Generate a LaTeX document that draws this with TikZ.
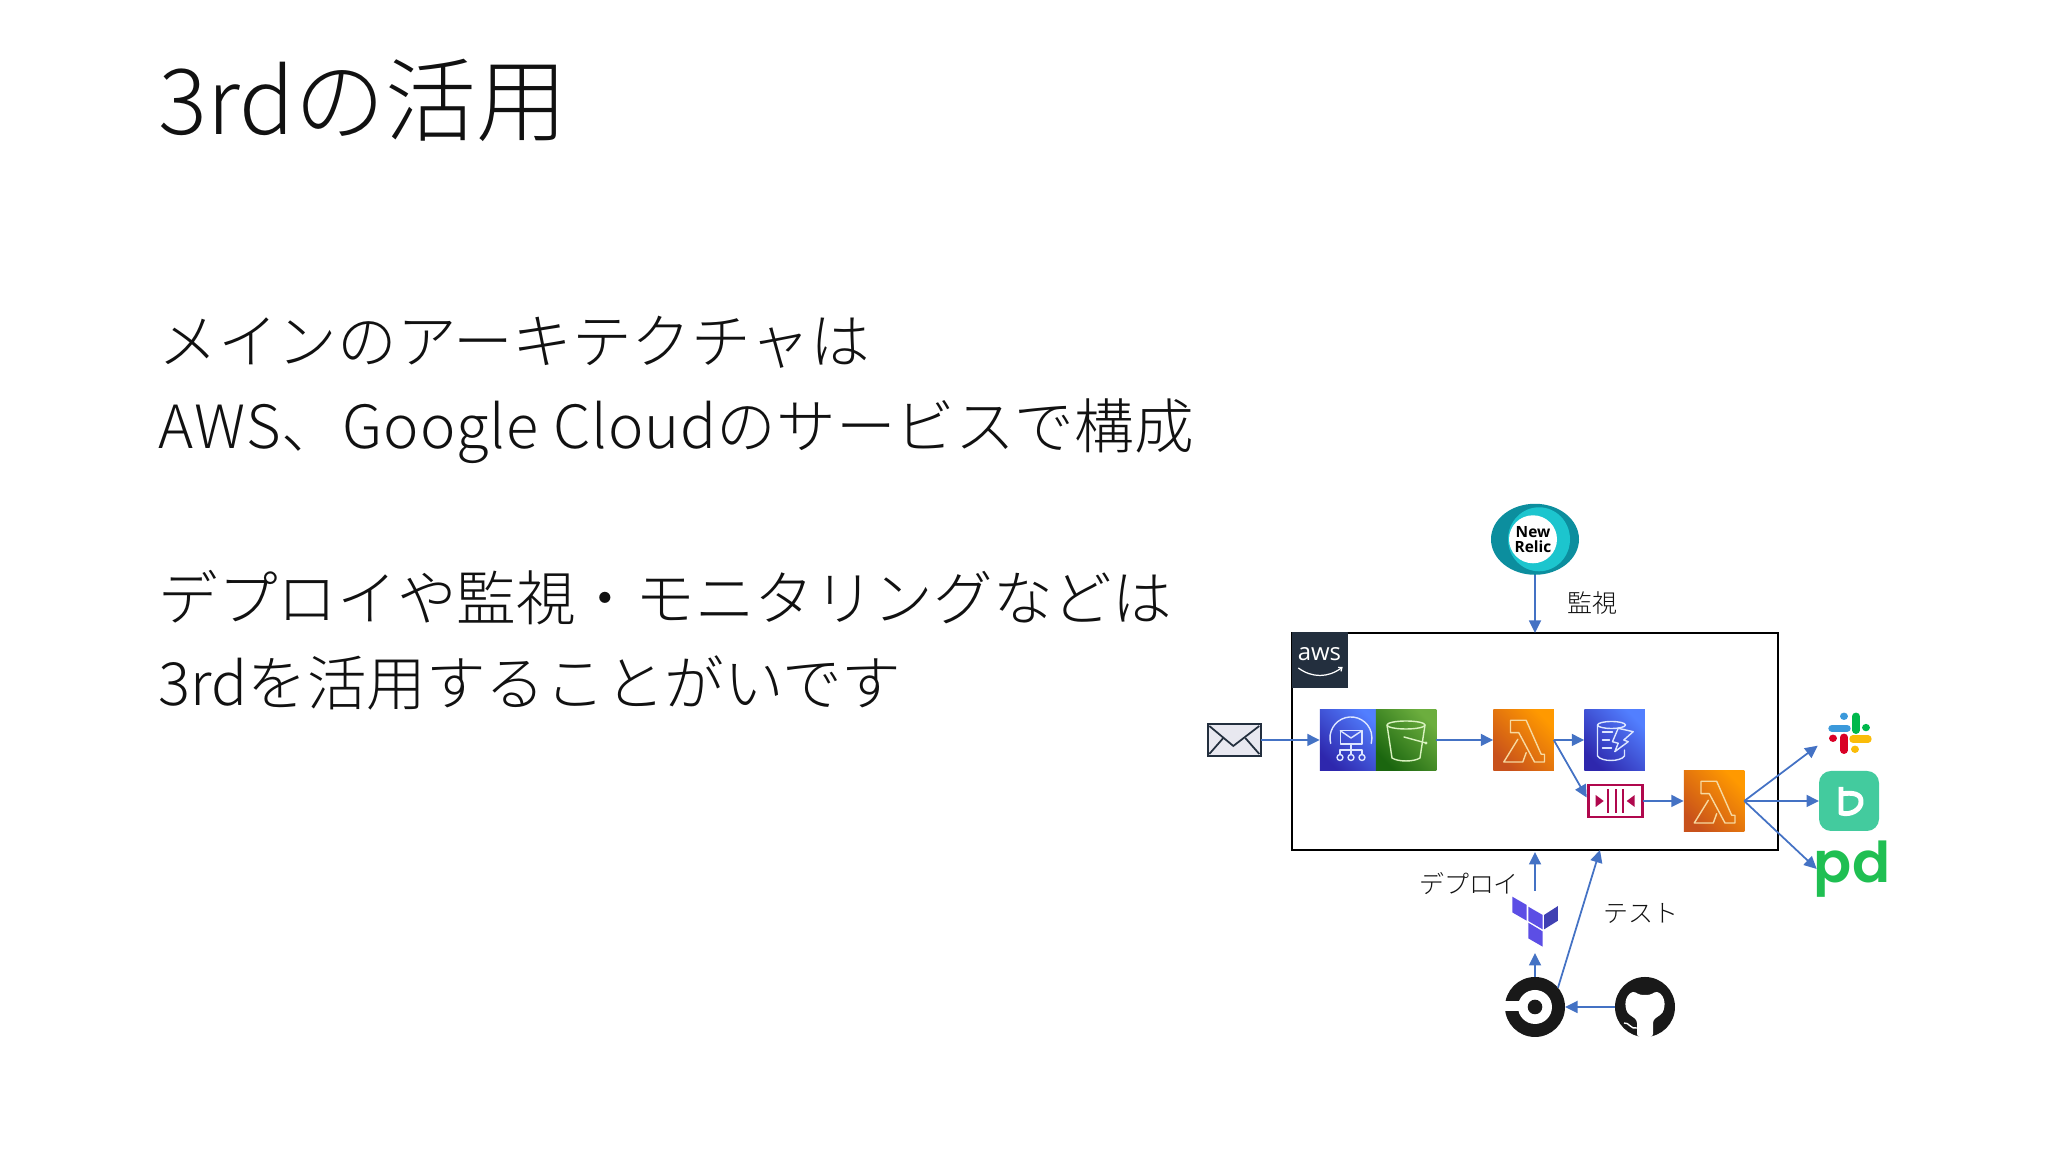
\documentclass[tikz,border=0pt]{standalone}
\usepackage{fontspec}
\usepackage{tikz}
\usetikzlibrary{arrows.meta,shapes.geometric}
\setmainfont{Noto Sans CJK JP}[UprightFont=* Light]
\newfontfamily\logofont{Open Sans}
\newfontfamily\pdfont{Poppins}[UprightFont=* SemiBold]

\tikzset{
    linearrow/.style={-{Triangle[length=0.125cm,width=0.12cm]},color=arrowblue,line width=0.5pt},
    awsicon/.style n args={2}{inner sep=0,outer sep=0,minimum size=0.605cm,bottom color=#1,top color=#2,shading angle=-45},
    glyph/.style={draw=#1,line width=0.4pt,line join=round,line cap=round},
    slackbar/.style={draw=#1,line width=2.1pt,line cap=round},
    titletext/.style={anchor=base west,inner sep=0,text=inktext,font=\fontsize{25.9pt}{28pt}\selectfont},
    bodytext/.style={anchor=base west,inner sep=0,text=inktext,font=\fontsize{16.96pt}{18pt}\selectfont},
    smalltext/.style={inner sep=0,text=inktext,font=\fontsize{7.1pt}{8pt}\selectfont}
}
\definecolor{arrowblue}{HTML}{4472C4}
\definecolor{inktext}{HTML}{111111}
\definecolor{awsnavy}{HTML}{232F3E}
\definecolor{orangelow}{HTML}{C8511B}
\definecolor{orangehigh}{HTML}{FF9900}
\definecolor{bluelow}{HTML}{2E27AD}
\definecolor{bluehigh}{HTML}{527FFF}
\definecolor{greenlow}{HTML}{1B660F}
\definecolor{greenhigh}{HTML}{6CAE3E}
\definecolor{lambdaline}{HTML}{F7D9A0}
\definecolor{bucketline}{HTML}{D9F2C0}
\definecolor{bluemark}{HTML}{DDE6FF}
\definecolor{sqsred}{HTML}{B0084D}
\definecolor{birdgreen}{HTML}{43CB9E}
\definecolor{pdgreen}{HTML}{1FBF52}
\definecolor{relicteal}{HTML}{0C8E9E}
\definecolor{reliclight}{HTML}{1CC5CE}
\definecolor{terraviolet}{HTML}{5C4EE5}
\definecolor{terradark}{HTML}{4040B2}
\definecolor{mailpaper}{HTML}{E8E8F0}

\begin{document}
\begin{tikzpicture}
    \useasboundingbox (0,0) rectangle (20.48,11.52);

    % slide text
    \node[titletext] (title) at (1.58,10.17) {3rdの活用};
    \node[bodytext] (lineone) at (1.58,7.885) {メインのアーキテクチャは};
    \node[bodytext] (linetwo) at (1.58,7.03) {{\addfontfeature{LetterSpace=1.7}AWS、Google Cloud}のサービスで構成};
    \node[bodytext] (linethree) at (1.58,5.315) {デプロイや監視・モニタリングなどは};
    \node[bodytext] (linefour) at (1.58,4.46) {3rdを活用することがいです};

    % account frame
    \node[draw=black,line width=0.55pt,inner sep=0,outer sep=0,minimum width=4.86cm,minimum height=2.17cm] (account) at (15.35,4.105) {};
    \node[fill=awsnavy,inner sep=0,minimum size=0.56cm] (awslogo) at (13.195,4.92) {};
    \node[inner sep=0,text=white,font=\logofont\fontsize{6.8pt}{7pt}\selectfont] (awsword) at (13.195,4.98) {aws};
    \draw[white,line width=0.35pt,-{Straight Barb[length=0.03cm,width=0.05cm]}] (12.983,4.84) .. controls (13.12,4.74) and (13.28,4.74) .. (13.427,4.85);

    % mail
    \node[draw=awsnavy,fill=mailpaper,line width=0.7pt,inner sep=0,outer sep=0,minimum width=0.53cm,minimum height=0.32cm] (envelope) at (12.343,4.12) {};
    \begin{scope}[shift={(envelope.center)},scale=0.01]
        \draw[awsnavy,line width=0.5pt] (-25,14) -- (-1,-6) -- (25,14);
        \draw[awsnavy,line width=0.5pt] (-25,-14) -- (-11,2);
        \draw[awsnavy,line width=0.5pt] (25,-14) -- (11,2);
    \end{scope}

    % service icons
    \node[awsicon={bluelow}{bluehigh}] (mailer) at (13.5,4.12) {};
    \begin{scope}[shift={(mailer.center)},scale=0.01]
        \draw[glyph=bluemark] (-19.3,-3.4) arc[start angle=195,end angle=-15,radius=21];
        \draw[glyph=bluemark] (-9.7,-4) rectangle (12,9.3);
        \draw[glyph=bluemark] (-9.7,9.3) -- (1,2) -- (12,9.3);
        \draw[glyph=bluemark] (1,-4) -- (1,-14);
        \draw[glyph=bluemark] (-10,-14) -- (-10,-10) -- (12,-10) -- (12,-14);
        \foreach \x in {-10,1,12} \draw[glyph=bluemark] (\x,-17.5) circle (3);
    \end{scope}
    \node[awsicon={greenlow}{greenhigh}] (bucket) at (14.06,4.12) {};
    \begin{scope}[shift={(bucket.center)},scale=0.01]
        \draw[glyph=bucketline] (0,15) ellipse (19 and 4);
        \draw[glyph=bucketline] (-19,15) -- (-14,-18) .. controls (-8,-22) and (8,-22) .. (14,-18) -- (19,15);
        \draw[glyph=bucketline] (-2,3) -- (20,-3);
        \fill[bucketline] (20,-3) circle (1.7);
    \end{scope}
    \node[awsicon={orangelow}{orangehigh}] (lambdaone) at (15.235,4.12) {};
    \node[awsicon={bluelow}{bluehigh}] (tablestore) at (16.145,4.12) {};
    \begin{scope}[shift={(tablestore.center)},scale=0.01]
        \draw[glyph=bluemark] (-3,15) ellipse (14 and 3.5);
        \draw[glyph=bluemark] (-17,15) -- (-17,-16) .. controls (-13,-22) and (6,-22) .. (10,-16) -- (10,-10);
        \draw[glyph=bluemark] (-12,8) -- (-2,8);
        \draw[glyph=bluemark] (-12,0) -- (-5,0);
        \draw[glyph=bluemark] (-12,-8) -- (-3,-8);
        \draw[glyph=bluemark] (3.7,11.7) -- (18.7,8.3) -- (9.3,0) -- (13.7,-1.7) -- (0.3,-11.7) -- (3.7,-3.3) -- (-2,-1.7) -- cycle;
    \end{scope}
    \node[draw=sqsred,fill=white,line width=0.7pt,inner sep=0,outer sep=0,minimum width=0.54cm,minimum height=0.32cm] (queue) at (16.157,3.51) {};
    \begin{scope}[shift={(queue.center)},scale=0.01]
        \foreach \x in {-8,0,7} \fill[sqsred] (\x-1,-12) rectangle (\x+1,12);
        \fill[sqsred] (-20,6) -- (-20,-6) -- (-12,0) -- cycle;
        \fill[sqsred] (19,6) -- (19,-6) -- (11,0) -- cycle;
    \end{scope}
    \node[awsicon={orangelow}{orangehigh}] (lambdatwo) at (17.14,3.51) {};
    \foreach \lam in {lambdaone,lambdatwo} {
        \begin{scope}[shift={(\lam.center)},scale=0.01]
            \draw[glyph=lambdaline] (-13,19.7) -- (2.7,19.7) -- (17.7,-14.3) -- (21,-14.3) -- (21,-22) -- (11,-22) -- (-4.7,7.3) -- (-13,7.3) -- cycle;
            \draw[glyph=lambdaline] (-5.7,0.7) -- (-19.7,-22) -- (-0.7,-22) -- (2.7,-12.7);
        \end{scope}
    }

    % monitoring logo
    \node[fill=relicteal,ellipse,inner sep=0,minimum width=0.88cm,minimum height=0.71cm] (relic) at (15.35,6.127) {};
    \fill[reliclight] (15.39,6.127) ellipse (0.31 and 0.32);
    \node[circle,fill=white,inner sep=0,minimum size=0.48cm] (relicdisc) at (15.33,6.127) {};
    \node[inner sep=0,align=center,text=black,font=\logofont\bfseries\fontsize{4.4pt}{4.3pt}\selectfont] (relicword) at (15.33,6.127) {New\\Relic};

    % notification logos
    \coordinate (slack) at (18.5,4.187);
    \begin{scope}[shift={(slack)},scale=0.01]
        \draw[slackbar=cyan!70!blue!80] (-18,5) -- (-3,5);
        \draw[slackbar=cyan!70!blue!80] (-6,17) -- (-6,17.01);
        \draw[slackbar=green!60!black!70!cyan] (6,17) -- (6,3);
        \draw[slackbar=green!60!black!70!cyan] (16,5.7) -- (16,5.71);
        \draw[slackbar=yellow!75!red] (3,-5.7) -- (18,-5.7);
        \draw[slackbar=yellow!75!red] (5,-16) -- (5,-16.01);
        \draw[slackbar=red!85!blue] (-6,-4) -- (-6,-17);
        \draw[slackbar=red!85!blue] (-17,-5) -- (-17,-5.01);
    \end{scope}
    \node[fill=birdgreen,rounded corners=0.12cm,inner sep=0,outer sep=0,minimum size=0.6cm] (bird) at (18.49,3.51) {};
    \begin{scope}[shift={(bird.center)},scale=0.01]
        \draw[white,line width=1.4pt,line join=round] (-8,14) -- (-8,-12) .. controls (2,-15) and (13,-8) .. (12,0) .. controls (12,7) and (4,9) .. (-8,7);
    \end{scope}
    \node[inner sep=0,text=pdgreen,font=\pdfont\fontsize{16pt}{18pt}\selectfont] (pdword) at (18.52,2.83) {pd};
    \coordinate (pagerduty) at (18.167,2.83);

    % delivery logos
    \coordinate (terraform) at (15.35,2.303);
    \begin{scope}[shift={(terraform)},scale=0.01]
        \fill[terraviolet] (-22.7,25) -- (-8.3,16.7) -- (-8.3,1) -- (-22.7,9.3) -- cycle;
        \fill[terraviolet] (-6.7,15) -- (7.7,6.7) -- (7.7,-7.7) -- (-6.7,0.7) -- cycle;
        \fill[terradark] (9,6.7) -- (23,15.7) -- (23,1) -- (9,-7.7) -- cycle;
        \fill[terraviolet] (-6.7,-1) -- (7.7,-9.7) -- (7.7,-25) -- (-6.7,-16.7) -- cycle;
    \end{scope}
    \coordinate (terrabase) at (15.35,1.99);
    \coordinate (terratop) at (15.35,2.61);
    \coordinate (accountfoot) at (15.35,3.0);
    \coordinate (testfoot) at (16.0,3.02);
    \node[circle,fill=black!90,inner sep=0,outer sep=0,minimum size=0.6cm] (circleci) at (15.35,1.45) {};
    \begin{scope}[shift={(circleci.center)},scale=0.01]
        \fill[white] (0,0) circle (17);
        \fill[white] (-31,-4) rectangle (-10,5.7);
        \fill[black!90] (0,0) circle (7.3);
    \end{scope}
    \node[circle,fill=black!90,inner sep=0,outer sep=0,minimum size=0.6cm] (github) at (16.45,1.45) {};
    \begin{scope}[shift={(github.center)},scale=0.01]
        \fill[white,rounded corners=0.03cm] (-20,3) -- (-18,11) -- (-12,16) -- (-5,12) -- (5,12) -- (12,16) -- (18,11) -- (20,3) -- (18,-6) -- (8,-13) -- (8,-30) -- (-8,-30) -- (-8,-13) -- (-18,-6) -- cycle;
        \draw[white,line width=0.4pt] (-8,-21) .. controls (-14,-23) and (-16,-15) .. (-21,-16);
    \end{scope}

    % connectors
    \draw[linearrow] (envelope.east) -- (mailer.west);
    \draw[linearrow] (bucket.east) -- (lambdaone.west);
    \draw[linearrow] (lambdaone.east) -- (tablestore.west);
    \draw[linearrow,shorten >=0.04cm] (lambdaone.east) -- (queue.west);
    \draw[linearrow] (queue.east) -- (lambdatwo.west);
    \draw[linearrow] (lambdatwo.east) -- (18.177,4.063);
    \draw[linearrow] (lambdatwo.east) -- (bird.west);
    \draw[linearrow] (lambdatwo.east) -- (pagerduty);
    \draw[linearrow] (relic.south) -- (account.north);
    \draw[linearrow] (terratop) -- (accountfoot);
    \draw[linearrow] (circleci.north) -- (terrabase);
    \draw[linearrow] (circleci.40) -- (testfoot);
    \draw[linearrow] (github.west) -- (circleci.east);

    % labels
    \node[smalltext] (watchlabel) at (15.92,5.49) {監視};
    \node[smalltext] (deploylabel) at (14.69,2.68) {デプロイ};
    \node[smalltext] (testlabel) at (16.41,2.39) {テスト};
\end{tikzpicture}
\end{document}
